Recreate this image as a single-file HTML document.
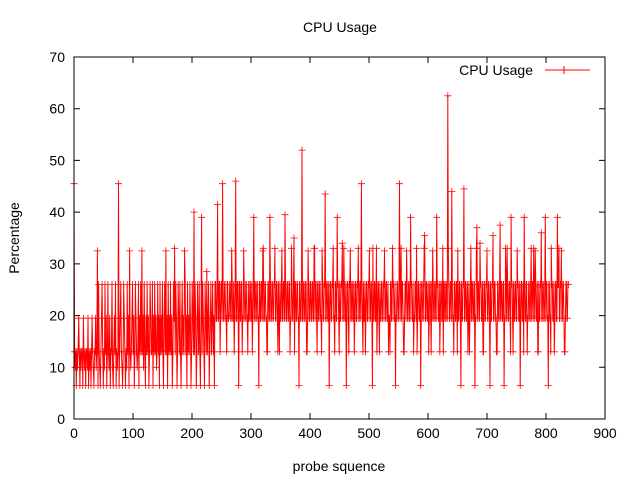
<!DOCTYPE html>
<html><head><meta charset="utf-8"><style>
html,body{margin:0;padding:0;background:#fff}
svg{display:block;font-family:"Liberation Sans",sans-serif}
</style></head><body>
<svg id="chart" width="640" height="480" viewBox="0 0 640 480">
<rect width="640" height="480" fill="#fff"/>
<text x="340" y="32" font-size="14" text-anchor="middle">CPU Usage</text>
<text x="0" y="0" font-size="14" text-anchor="middle" transform="translate(19,238) rotate(-90)">Percentage</text>
<text x="339" y="471" font-size="14" text-anchor="middle">probe squence</text>
<g id="axes"></g>
<g id="series"></g>
<g>
<text x="533" y="75" font-size="14" text-anchor="end">CPU Usage</text>
<line x1="545" y1="70" x2="590" y2="70" stroke="#f00"/>
<path d="M564,66v8M560,70h8" stroke="#f00"/>
</g>
<rect x="74" y="57" width="531" height="362" fill="none" stroke="#000"/>
</svg>
<script>
const xTicks=[0,100,200,300,400,500,600,700,800,900];
const yTicks=[0,10,20,30,40,50,60,70];
const segmentProbes=[0,240,838];
const earlyValues=[45.5,13,10,13,6.5,13,10,13,19.5,13,6.5,13,10,13,13,6.5,19.5,13,10,13,6.5,13,13,10,19.5,6.5,13,10,13,6.5,13,19.5,13,10,6.5,13,13,19.5,10,13,
32.5,6.5,26,13,10,6.5,13,19.5,26,13,6.5,13,10,26,13,19.5,6.5,13,26,13,10,19.5,6.5,13,13,26,10,6.5,13,19.5,13,26,6.5,13,10,13,45.5,6.5,13,19.5,26,13,10,6.5,13,26,19.5,13,6.5,13,10,26,13,19.5,6.5,32.5,13,10,13,19.5,
26,13,19.5,6.5,13,26,19.5,13,10,13,26,6.5,19.5,13,26,13,32.5,13,19.5,10,26,13,6.5,19.5,13,26,13,19.5,6.5,13,26,19.5,13,13,26,6.5,19.5,13,26,13,19.5,10,13,26,13,19.5,6.5,26,13,19.5,13,26,13,6.5,19.5,26,13,32.5,13,19.5,6.5,26,13,19.5,13,26,13,19.5,6.5,13,26,19.5,33,13,26,19.5,6.5,13,26,19.5,13,26,13,6.5,19.5,26,13,19.5,13,32.5,26,13,19.5,6.5,26,13,19.5,13,26,19.5,6.5,13,26,19.5,13,40,13,26,19.5,6.5,13,26,19.5,13,26,13,6.5,19.5,39,13,26,19.5,13,6.5,26,19.5,13,28.5,13,19.5,26,6.5,13,19.5,26,13,19.5,26,13,19.5,6.5,26];
const lateValues=[26,19.5,41.5,19.5,26,19.5,26,45.5,19.5,26,19.5,13,26,19.5,26,19.5,32.5,19.5,26,19.5,46,19.5,26,6.5,26,19.5,26,19.5,32.5,19.5,26,19.5,13,19.5,26,19.5,26,19.5,39,26,19.5,26,19.5,6.5,26,19.5,26,32.5,19.5,26,19.5,13,26,19.5,39,19.5,26,19.5,26,33,19.5,26,13,19.5,26,19.5,32.5,19.5,26,39.5,19.5,26,19.5,26,13,19.5,26,19.5,35,26,19.5,26,19.5,6.5,26,19.5,52,19.5,26,19.5,26,13,32.5,19.5,26,19.5,26,19.5,33,19.5,26,13,26,19.5,26,19.5,32.5,19.5,26,43.5,19.5,26,19.5,6.5,26,19.5,26,33,19.5,26,19.5,39,26,13,19.5,26,34,19.5,26,19.5,6.5,26,19.5,26,32.5,19.5,26,19.5,13,26,19.5,26,33,19.5,26,45.5,19.5,26,19.5,13,26,19.5,26,32.5,19.5,26,6.5,19.5,26,19.5,33,19.5,26,13,19.5,26,19.5,26,32.5,19.5,26,19.5,13,19.5,26,19.5,33,26,19.5,6.5,19.5,26,19.5,45.5,26,19.5,26,13,19.5,26,32.5,19.5,26,19.5,39,26,19.5,13,19.5,26,33,19.5,26,19.5,6.5,26,19.5,26,35.5,19.5,26,19.5,13,26,19.5,26,32.5,19.5,26,19.5,39,26,19.5,13,26,19.5,33,26,19.5,26,19.5,62.5,26,19.5,26,44,19.5,13,26,19.5,26,32.5,19.5,26,6.5,19.5,26,44.5,19.5,26,19.5,13,26,19.5,33,26,19.5,26,6.5,19.5,37,26,19.5,34,26,19.5,13,26,19.5,26,32.5,19.5,26,6.5,19.5,26,35.5,19.5,26,19.5,13,26,19.5,37.5,26,19.5,26,6.5,19.5,26,33,19.5,26,19.5,39,26,13,19.5,26,19.5,32.5,26,19.5,6.5,26,19.5,26,39,19.5,26,13,19.5,26,19.5,33,26,19.5,26,32.5,19.5,26,13,19.5,26,36,19.5,26,19.5,39,26,19.5,6.5,26,19.5,33,26,19.5,13,26,19.5,39,26,19.5,26,32.5,19.5,26,13,19.5,26,19.5,26];
const lateFill=[19.5,26,19.5,26,13,26,19.5,26,19.5,26,19.5,26,19.5,20,26,19.5,26,19.5,13,26,19.5,26,19.5,26,19.5,26,13,19.5,26,19.5,26,19.5,26,19.5,26,19.5,13,26,19.5,26,19.5,26,19.5,26,19.5,26,19.5,33,19.5,26,19.5,13,26,19.5,26,19.5,26,19.5,26,19.5,26,19.5,26,13,19.5,26,19.5,26,19.5,26,19.5,26,19.5,26,19.5,33,19.5,26,13,26,19.5,26,19.5,26,19.5,26,19.5,26,19.5,26,13,19.5,26,19.5,26,19.5,26,19.5,33,26,19.5,26,19.5,26,19.5,13,26,19.5,26,19.5,26,19.5,26,19.5,26,19.5,26,19.5,13,26,19.5,26,19.5,26,19.5,26,19.5,33,19.5,26,19.5,26,13,26,19.5,26,19.5,26,19.5,26,19.5,26,19.5,26,19.5,26,13,19.5,26,19.5,26,19.5,26,19.5,26,19.5,33,19.5,26,19.5,13,26,19.5,26,19.5,26,19.5,26,19.5,26,19.5,26,19.5,13,26,19.5,26,19.5,26,19.5,26,19.5,26,19.5,33,26,19.5,13,26,19.5,26,19.5,26,19.5,26,19.5,26,19.5,26,19.5,13,26,19.5,26,19.5,26,19.5,33,19.5,26,19.5,26,19.5,26,13,19.5,26,19.5,26,19.5,26,19.5,26,19.5,26,19.5,13,26,19.5,26,19.5,33,19.5,26,19.5,26,19.5,26,19.5,26,13,19.5,26,19.5,26,19.5,26,19.5,26,19.5,26,19.5,13,26,19.5,26,19.5,26,19.5,33,19.5,26,19.5,26,19.5,26,13,26,19.5,26,19.5,26,19.5,26,19.5,26,19.5,26,19.5,13,26,19.5,26,19.5,26,19.5,26,19.5,33,19.5,26,19.5,26,13,26,19.5,26,19.5,26,19.5,26,19.5,26,19.5,26,19.5,13,26,19.5,26,19.5,26,19.5,26,19.5,26,33,19.5,26,19.5,13,26,19.5,26,19.5,26,19.5,26,19.5,26,19.5,26,19.5,13,26,19.5,26,19.5,26,19.5,26,33,19.5,26,19.5,26,19.5,13,26,19.5,26,19.5,26,19.5,26,19.5,26,19.5,26,19.5,13,26,19.5,26,19.5,26,19.5,26,19.5,33,26,19.5,26,19.5,13,26,19.5,26,19.5,26,19.5,26,19.5,26,19.5,26,19.5,13,26,19.5,26,19.5,26,19.5,26,19.5,26];
const X0=74,X1=605,Y0=419,Y1=57;
function xs(v){return X0+(v-0)/900*(X1-X0);}
function ys(v){return Y0-(v-0)/70*(Y0-Y1);}
const NS="http://www.w3.org/2000/svg";
const axes=document.getElementById('axes');
xTicks.forEach(t=>{
  const x=xs(t);
  const l=document.createElementNS(NS,'path');
  l.setAttribute('d',`M${x},${Y0}v-6M${x},${Y1}v6`);
  l.setAttribute('stroke','#000');
  
  
  axes.appendChild(l);
  const tx=document.createElementNS(NS,'text');
  tx.setAttribute('x',x);tx.setAttribute('y',Y0+19);
  tx.setAttribute('font-size','14');tx.setAttribute('text-anchor','middle');
  tx.textContent=t;
  
  
  axes.appendChild(tx);
});
yTicks.forEach(t=>{
  const y=ys(t);
  const l=document.createElementNS(NS,'path');
  l.setAttribute('d',`M${X0},${y}h6M${X1},${y}h-6`);
  l.setAttribute('stroke','#000');
  
  
  axes.appendChild(l);
  const tx=document.createElementNS(NS,'text');
  tx.setAttribute('x',X0-9);tx.setAttribute('y',y+5);
  tx.setAttribute('font-size','14');tx.setAttribute('text-anchor','end');
  tx.textContent=t;
  
  
  axes.appendChild(tx);
});
const lateAll=[];
lateValues.forEach((v,i)=>{lateAll.push(v);if(i<lateValues.length-1&&i<lateFill.length)lateAll.push(lateFill[i]);});
const pts=[];
[earlyValues,lateAll].forEach((arr,s)=>{
  const p0=segmentProbes[s],p1=segmentProbes[s+1];
  arr.forEach((v,i)=>{
    const p=p0+(p1-p0)*(s===0?i/arr.length:i/(arr.length-1));
    pts.push([xs(p),ys(v)]);
  });
});
const g=document.getElementById('series');
let d='',m='';
pts.forEach(([x,y],i)=>{
  d+=(i?'L':'M')+x.toFixed(1)+','+y.toFixed(1);
  m+=`M${(x-3.5).toFixed(1)},${y.toFixed(1)}h7M${x.toFixed(1)},${(y-3.5).toFixed(1)}v7`;
});
const line=document.createElementNS(NS,'path');
line.setAttribute('d',d);line.setAttribute('fill','none');line.setAttribute('stroke','#f00');


g.appendChild(line);
const mk=document.createElementNS(NS,'path');
mk.setAttribute('d',m);mk.setAttribute('stroke','#f00');mk.setAttribute('stroke-width','0.8');


g.appendChild(mk);
</script>
</body></html>
